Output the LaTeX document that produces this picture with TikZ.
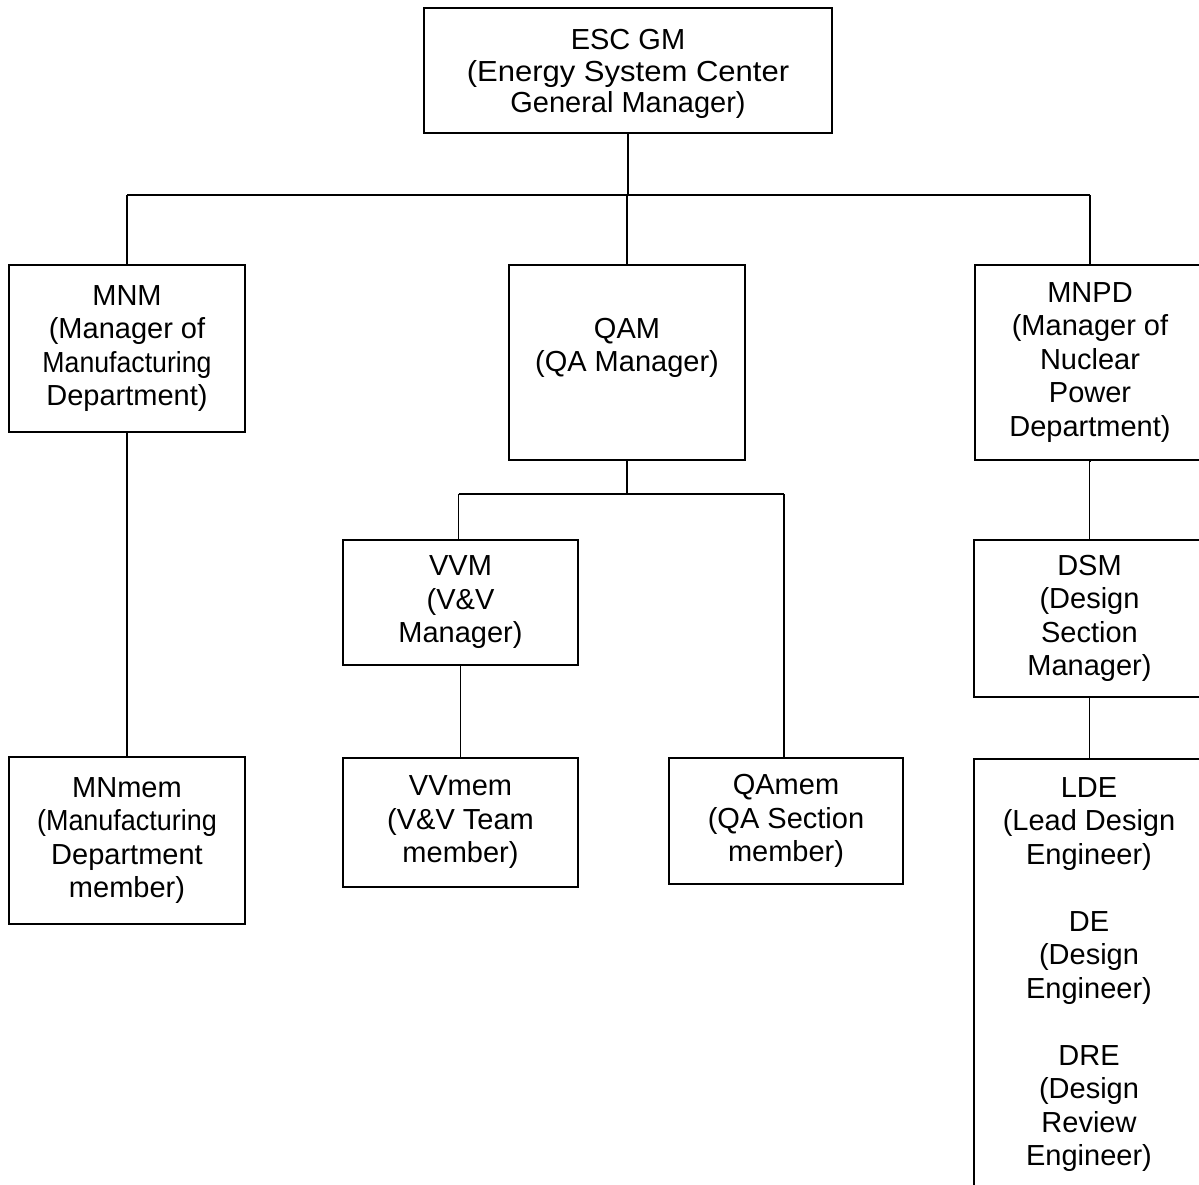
\documentclass[tikz,border=0pt]{standalone}
\usepackage{fontspec}
\setmainfont{Liberation Sans}
\begin{document}
\begin{tikzpicture}[x=1pt,y=-1pt,
  box/.style={draw, line width=1.6pt, inner sep=0pt, align=center,
    font=\fontsize{29}{33.5}\selectfont},
  txt/.style={inner sep=0pt, align=center, font=\fontsize{29}{33.5}\selectfont},
  link/.style={line width=1.6pt}]
\path[use as bounding box, clip] (0,0) rectangle (1199,1184);

% top level
\node[box, minimum width=408, minimum height=125] (esc) at (628,70.5) {};
\node[txt, font=\fontsize{29}{31.5}\selectfont] (esctext) at (628,74)
  {ESC GM\\\scalebox{1.07}[1]{(Energy System Center}\\General Manager)};

% second level
\node[box, minimum width=236, minimum height=167] (mnm) at (127,348.5)
  {MNM\\(Manager of\\\scalebox{0.92}[1]{Manufacturing}\\Department)};
\node[box, minimum width=236, minimum height=195] (qam) at (627,362.5) {};
\node[txt] (qamtext) at (627,348) {QAM\\(QA Manager)};
\node[box, minimum width=230, minimum height=195] (mnpd) at (1090,362.5)
  {MNPD\\(Manager of\\Nuclear\\Power\\Department)};

% third level
\node[box, minimum width=235, minimum height=125] (vvm) at (460.5,602.5)
  {VVM\\(V\&V\\Manager)};
\node[box, minimum width=231, minimum height=157] (dsm) at (1089.5,618.5)
  {DSM\\(Design\\Section\\Manager)};

% members
\node[box, minimum width=236, minimum height=167] (mnmem) at (127,840.5)
  {MNmem\\\scalebox{0.93}[1]{(Manufacturing}\\Department\\member)};
\node[box, minimum width=235, minimum height=129] (vvmem) at (460.5,822.5)
  {VVmem\\(V\&V Team\\member)};
\node[box, minimum width=234, minimum height=126] (qamem) at (786,821)
  {QAmem\\(QA Section\\member)};
\node[box, minimum width=232, minimum height=460, anchor=north west] (lde) at (973,758) {};
\node[txt, anchor=north] (ldetext) at (1089,777)
  {LDE\\(Lead Design\\Engineer)\\[33.5pt]DE\\(Design\\Engineer)\\[33.5pt]DRE\\(Design\\Review\\Engineer)};

% connectors from the general manager
\coordinate (busL) at (127,195);
\coordinate (busR) at (1090,195);
\draw[link] (esc.south) -- (esc.south |- busL);
\draw[link] (busL) -- (busR);
\draw[link] (busL) -- (mnm.north);
\draw[link] (qam.north |- busL) -- (qam.north);
\draw[link] (busR) -- (mnpd.north);

% QA branch
\coordinate (qbL) at (458.5,494);
\coordinate (qbR) at (784,494);
\draw[link] (qam.south) -- (qam.south |- qbL);
\draw[link] (qbL) -- (qbR);
\draw[link] (qbL) -- (vvm.north -| qbL);
\draw[link] (qbR) -- (qamem.north -| qbR);
\draw[link] (vvm.south) -- (vvmem.north);

% manufacturing branch
\draw[link] (mnm.south) -- (mnmem.north);

% nuclear power branch
\draw[link] (mnpd.south) -- (dsm.south |- mnpd.south) -- (dsm.north);
\draw[link] (dsm.south) -- (dsm.south |- lde.north);
\end{tikzpicture}
\end{document}
